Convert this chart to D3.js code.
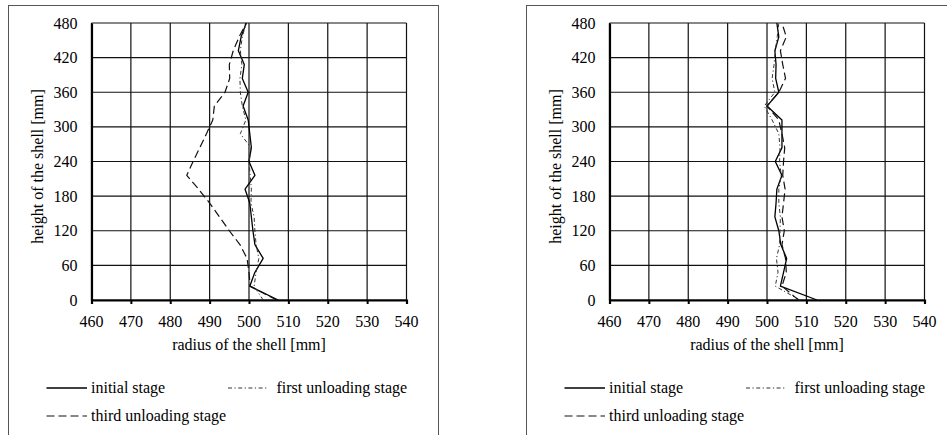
<!DOCTYPE html>
<html><head><meta charset="utf-8">
<script src="https://cdn.jsdelivr.net/npm/d3@7/dist/d3.min.js"></script>
</head>
<body style="margin:0">
<svg id="chart" width="947" height="435" font-family="Liberation Serif"></svg>
<script>
// ---- data ----
const heights = [0,24,48,72,96,120,144,168,192,216,240,264,288,312,336,360,384,408,432,456,480];
const xTicks = [460,470,480,490,500,510,520,530,540];
const yTicks = [0,60,120,180,240,300,360,420,480];
const seriesNames = ["initial stage","first unloading stage","third unloading stage"];

const leftInitial = [507.4,500.2,501.5,503.6,501.5,501.0,500.6,500.2,499.0,501.5,500.0,500.6,500.2,499.8,498.5,499.8,498.3,498.8,497.3,498.0,499.3];
const leftFirst   = [503.6,501.3,501.8,502.5,501.8,501.5,501.3,500.5,500.6,500.3,500.0,500.5,497.8,499.2,498.3,497.8,497.7,498.2,497.8,498.3,499.3];
const leftThird   = [507.0,500.3,500.0,499.5,497.7,495.0,492.5,490.0,487.2,484.2,485.8,487.5,489.2,490.8,491.2,493.9,495.1,495.0,496.0,497.5,499.3];

const rightInitial = [512.7,503.4,504.2,505.0,503.5,503.0,502.0,502.3,502.5,503.8,502.1,503.8,503.8,503.8,500.0,503.0,502.2,502.3,502.0,503.0,502.5];
const rightFirst   = [508.3,502.1,502.8,502.4,503.2,503.3,503.4,503.0,503.0,503.6,503.2,503.3,503.0,501.3,499.3,502.0,501.3,501.8,502.1,502.6,503.0];
const rightThird   = [508.0,503.8,504.9,504.7,503.8,504.4,503.8,504.2,504.6,504.0,504.2,504.5,503.8,503.0,500.0,503.0,504.7,504.0,503.4,504.9,503.8];

// ---- drawing ----
const FONT = "Liberation Serif";
const FS = 16;
const svg = d3.select("#chart");
const styles = [
  {stroke:"#000", width:1.3, dash:null},
  {stroke:"#333", width:1.0, dash:"4,2.5,1.2,2.5"},
  {stroke:"#111", width:1.2, dash:"8,4"}
];

// all text goes straight into the svg root
function addText(x, y, str, anchor, rot) {
  const t = svg.append("text").attr("x",x).attr("y",y)
    .attr("font-family",FONT).attr("font-size",FS)
    .attr("text-anchor",anchor || "start").text(str);
  if (rot) t.attr("transform",`rotate(-90,${x},${y})`);
  return t;
}

function panel(ox, series) {
  const L = ox + 91.5, R = ox + 406.5, T = 23, B = 300;
  const x = d3.scaleLinear().domain([460,540]).range([L,R]);
  const y = d3.scaleLinear().domain([0,480]).range([B,T]);

  svg.append("rect").attr("x",ox+8.5).attr("y",5.5).attr("width",430).attr("height",460)
    .attr("fill","none").attr("stroke","#555").attr("stroke-width",1);

  svg.append("g").selectAll("line").data(xTicks).join("line")
    .attr("x1",d=>x(d)).attr("x2",d=>x(d)).attr("y1",T).attr("y2",B)
    .attr("stroke","#111").attr("stroke-width",1.2);
  svg.append("g").selectAll("line").data(yTicks).join("line")
    .attr("x1",L).attr("x2",R).attr("y1",d=>y(d)).attr("y2",d=>y(d))
    .attr("stroke","#111").attr("stroke-width",1.2);

  // axes: lines and ticks from d3 axis, labels as root-level texts
  const xa = svg.append("g").attr("transform",`translate(0,${B})`)
    .call(d3.axisBottom(x).tickValues(xTicks).tickSize(4).tickFormat(""));
  xa.select(".domain").attr("stroke","#000").attr("stroke-width",2.2);
  xa.selectAll(".tick line").attr("stroke","#000").attr("stroke-width",2);
  xa.selectAll("text").remove();
  const ya = svg.append("g").attr("transform",`translate(${L},0)`)
    .call(d3.axisLeft(y).tickValues(yTicks).tickSize(0).tickFormat(""));
  ya.select(".domain").attr("stroke","#000").attr("stroke-width",2.2);
  ya.selectAll("text").remove();

  xTicks.forEach(v => addText(x(v), B + 27, String(v), "middle"));
  yTicks.forEach(v => addText(L - 14, y(v) + 5.5, String(v), "end"));

  addText((L+R)/2, 350, "radius of the shell [mm]", "middle");
  addText(ox + 43, (T+B)/2 + 5, "height of the shell [mm]", "middle", true);

  const line = d3.line().x(d=>x(d[0])).y(d=>y(d[1]));
  series.forEach((vals,i)=>{
    const pts = vals.map((v,k)=>[v,heights[k]]);
    svg.append("path").datum(pts).attr("d",line).attr("fill","none")
      .attr("stroke",styles[i].stroke).attr("stroke-width",styles[i].width)
      .attr("stroke-dasharray",styles[i].dash).attr("stroke-linejoin","round");
  });

  const leg = [
    {x1:46.5,x2:87,tx:91,y:388},
    {x1:228,x2:268,tx:276.5,y:388},
    {x1:46.5,x2:87,tx:91,y:416}
  ];
  leg.forEach((p,i)=>{
    svg.append("line").attr("x1",ox+p.x1).attr("x2",ox+p.x2).attr("y1",p.y).attr("y2",p.y)
      .attr("stroke",styles[i].stroke).attr("stroke-width",styles[i].width)
      .attr("stroke-dasharray",styles[i].dash);
    addText(ox + p.tx, p.y + 5, seriesNames[i], "start");
  });
}

panel(0, [leftInitial,leftFirst,leftThird]);
panel(518, [rightInitial,rightFirst,rightThird]);
</script>
</body></html>
